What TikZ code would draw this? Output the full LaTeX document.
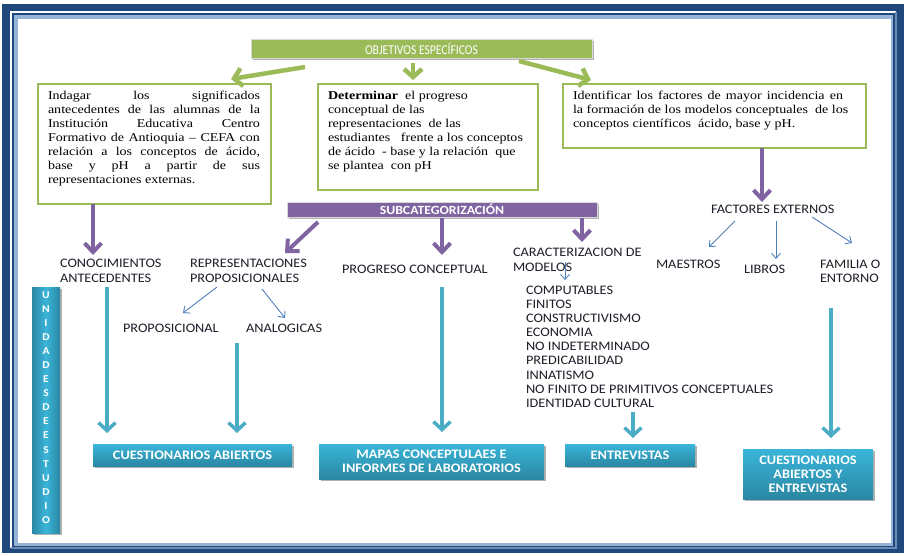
\documentclass[tikz,border=0pt]{standalone}
\usepackage{fontspec}
\usetikzlibrary{arrows.meta,calc,shadows}
\newfontfamily\lblfont{Carlito}[FakeStretch=1.1]
\newfontfamily\bnrfont{Carlito}[FakeStretch=0.86]
\newfontfamily\serfont{Liberation Serif}[FakeStretch=1.17]
\definecolor{frameblue}{HTML}{1F497D}
\definecolor{framelight}{HTML}{95B3D7}
\definecolor{framemid}{HTML}{6C8BB5}
\definecolor{grn}{HTML}{9BBB59}
\definecolor{purp}{HTML}{8064A2}
\definecolor{tealline}{HTML}{4BACC6}
\definecolor{tealtop}{HTML}{3AB5D9}
\definecolor{tealbot}{HTML}{2A87A3}
\definecolor{thinblue}{HTML}{4F81BD}
\definecolor{ink}{HTML}{1E1E2A}
\begin{document}
\begin{tikzpicture}[x=1pt,y=-1pt,
  lbl/.style={font=\lblfont\fontsize{13}{15}\selectfont, text=ink, inner sep=0pt, outer sep=0pt, align=left, anchor=north west},
  sertext/.style={font=\serfont\fontsize{12}{14}\selectfont, text=black, inner sep=0pt, outer sep=0pt, align=left, anchor=north west},
  objbox/.style={draw=grn, line width=1.8pt, fill=white, inner sep=0pt, outer sep=0pt, anchor=north west},
  softshadow/.style={drop shadow={shadow xshift=1.5pt, shadow yshift=-1.5pt, opacity=0.3, fill=black}},
  gbanner/.style={fill=grn, draw=white!85!black, line width=0.8pt, text=white, font=\bnrfont\fontsize{13.5}{15}\selectfont, inner sep=0pt, outer sep=0pt, anchor=north west, softshadow},
  pbanner/.style={fill=purp, draw=white!85!black, line width=0.6pt, text=white, font=\lblfont\bfseries\fontsize{12.5}{14}\selectfont, inner sep=0pt, outer sep=0pt, anchor=north west, softshadow},
  tbox/.style={top color=tealtop, bottom color=tealbot, text=white, font=\lblfont\bfseries\fontsize{13}{14}\selectfont, align=center, inner sep=0pt, outer sep=0pt, anchor=north west, softshadow},
  garrow/.style={draw=grn, line width=4.5pt, -{Straight Barb[length=8pt, width=18pt]}},
  parrow/.style={draw=purp, line width=4pt, -{Straight Barb[length=9pt, width=17pt]}},
  tarrow/.style={draw=tealline, line width=3.5pt, -{Straight Barb[length=8pt, width=17pt]}},
  barrow/.style={draw=thinblue, line width=0.9pt, -{Straight Barb[length=5pt, width=9pt]}},
]
\useasboundingbox (0,0) rectangle (904,555);
\fill[white] (0,0) rectangle (904,555);

% frame
\fill[frameblue] (2,4) rectangle (904,553);
\draw[white, line width=2pt] (11,548) -- (11,12) -- (895.5,12);
\draw[framemid, line width=2pt] (895.5,12) -- (895.5,548) -- (11,548);
\fill[framelight] (14,15) rectangle (893,545.5);
\fill[white] (18,19) rectangle (891,543.3);

% objectives
\node[gbanner, minimum width=341pt, minimum height=19pt] (obj) at (251,39) {OBJETIVOS ESPECÍFICOS};

\node[objbox, minimum width=233pt, minimum height=120pt] (obj1) at (38,84) {};
\node[sertext] (t1) at (48,91) {\makebox[212pt][s]{Indagar los significados}\\
\makebox[212pt][s]{antecedentes de las alumnas de la}\\
\makebox[212pt][s]{Institución Educativa Centro}\\
\makebox[212pt][s]{Formativo de Antioquia – CEFA con}\\
\makebox[212pt][s]{relación a los conceptos de ácido,}\\
\makebox[212pt][s]{base y pH a partir de sus}\\
representaciones externas.};

\node[objbox, minimum width=220pt, minimum height=106pt] (obj2) at (318,84) {};
\node[sertext] (t2) at (328,91) {\textbf{Determinar}\ \ el progreso\\
conceptual de las\\
representaciones\ \ de las\\
estudiantes\ \ \ frente a los conceptos\\
de ácido\ \ - base y la relación\ \ que\\
se plantea\ \ con pH};

\node[objbox, minimum width=303pt, minimum height=64pt] (obj3) at (563,84) {};
\node[sertext] (t3) at (573,91) {\makebox[270pt][s]{Identificar los factores de mayor incidencia en}\\
la formación de los modelos conceptuales\ \ de los\\
conceptos científicos\ \ ácido, base y pH.};

% subcategories
\node[pbanner, minimum width=310pt, minimum height=15pt] (sub) at (287,202) {SUBCATEGORIZACIÓN};

\node[lbl] (conoc) at (60,259) {CONOCIMIENTOS\\ANTECEDENTES};
\node[lbl] (repr) at (190,259) {REPRESENTACIONES\\PROPOSICIONALES};
\node[lbl] (propos) at (123,324) {PROPOSICIONAL};
\node[lbl] (analog) at (246,324) {ANALOGICAS};
\node[lbl] (prog) at (342,265) {PROGRESO CONCEPTUAL};
\node[lbl] (caract) at (513,248) {CARACTERIZACION DE\\MODELOS};
\node[lbl, font=\lblfont\fontsize{13}{14.1}\selectfont] (rasgos) at (526,286) {COMPUTABLES\\FINITOS\\CONSTRUCTIVISMO\\ECONOMIA\\NO INDETERMINADO\\PREDICABILIDAD\\INNATISMO\\NO FINITO DE PRIMITIVOS CONCEPTUALES\\IDENTIDAD CULTURAL};
\node[lbl] (fact) at (711,205) {FACTORES EXTERNOS};
\node[lbl] (maes) at (656,260) {MAESTROS};
\node[lbl] (libros) at (744,265) {LIBROS};
\node[lbl, font=\lblfont\fontsize{13}{14.5}\selectfont] (familia) at (820,260) {FAMILIA O\\ENTORNO};

% study units
\node[left color=tealbot, right color=tealbot, middle color=tealtop, inner sep=0pt, outer sep=0pt, anchor=north west, minimum width=28pt, minimum height=246pt, softshadow] (unidbar) at (32,287) {};
\node[text=white, font=\lblfont\bfseries\fontsize{10.5}{14.06}\selectfont, align=center, inner sep=0pt] (unid) at (46,407.5) {U\\N\\I\\D\\A\\D\\E\\S\\D\\E\\E\\S\\T\\U\\D\\I\\O};

\node[tbox, minimum width=199pt, minimum height=22pt] (cq1) at (93,444) {CUESTIONARIOS ABIERTOS};
\node[tbox, minimum width=225pt, minimum height=35pt] (mapas) at (319,444) {MAPAS CONCEPTULAES E\\INFORMES DE LABORATORIOS};
\node[tbox, minimum width=130pt, minimum height=22pt] (entrev) at (565,444) {ENTREVISTAS};
\node[tbox, minimum width=130pt, minimum height=50pt] (cq2) at (743,449) {CUESTIONARIOS\\ABIERTOS Y\\ENTREVISTAS};

% objective arrows
\draw[garrow] ($(obj.south west)+(54,9)$) -- ($(obj1.north west)+(193,-5)$);
\draw[garrow] ($(obj.south west)+(162,5)$) -- ($(obj2.north west)+(95,-4)$);
\draw[garrow] ($(obj.south west)+(268,3)$) -- ($(obj3.north west)+(28,-4)$);

% subcategory arrows
\draw[parrow] ($(obj1.south west)+(55,0)$) -- ($(conoc.north west)+(33,-4)$);
\draw[parrow] ($(sub.south west)+(31,5)$) -- ($(repr.north west)+(95,-6)$);
\draw[parrow] ($(sub.south west)+(155,1)$) -- ($(prog.north west)+(100,-10)$);
\draw[parrow] ($(sub.south west)+(295,1)$) -- ($(caract.north west)+(69,-6)$);
\draw[parrow] ($(obj3.south west)+(199,0)$) -- ($(fact.north west)+(51,-3)$);

% thin branch arrows
\draw[barrow] ($(repr.north west)+(27,28)$) -- ($(propos.north west)+(60,-11)$);
\draw[barrow] ($(repr.north west)+(72,30)$) -- ($(analog.north west)+(39,-6)$);
\draw[barrow] ($(caract.north west)+(52,14)$) -- ($(rasgos.north west)+(39,-6)$);
\draw[barrow] ($(fact.north west)+(24,16)$) -- ($(maes.north west)+(53,-13)$);
\draw[barrow] ($(fact.north west)+(65,16)$) -- ($(libros.north west)+(32,-6)$);
\draw[barrow] ($(fact.north west)+(101,12)$) -- ($(familia.north west)+(32,-17)$);

% instrument arrows
\draw[tarrow] ($(conoc.north west)+(47,28)$) -- ($(cq1.north west)+(14,-11)$);
\draw[tarrow] ($(analog.north west)+(-9,19)$) -- ($(cq1.north west)+(144,-11)$);
\draw[tarrow] ($(prog.north west)+(100,22)$) -- ($(mapas.north west)+(123,-12)$);
\draw[tarrow] ($(rasgos.north west)+(107,126)$) -- ($(entrev.north west)+(68,-6)$);
\draw[tarrow] ($(familia.north west)+(11,48)$) -- ($(cq2.north west)+(88,-11)$);
\end{tikzpicture}
\end{document}
